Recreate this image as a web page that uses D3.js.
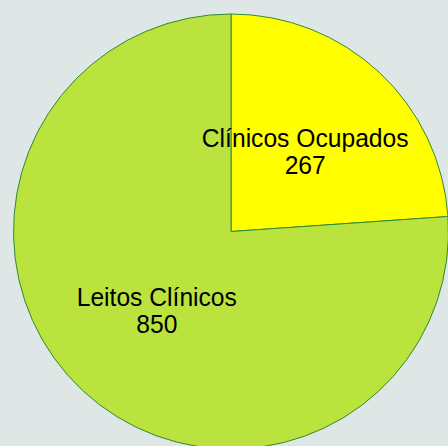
<!DOCTYPE html>
<html>
<head>
<meta charset="utf-8">
<script src="https://cdn.jsdelivr.net/npm/d3@7"></script>
<style>
  html, body { margin: 0; padding: 0; background: #dee7e6; }
</style>
</head>
<body>
<div id="viz"></div>
<script>
const width = 448;
const height = 446;

// Data
const categories = ['Clínicos Ocupados', 'Leitos Clínicos'];
const values = [267, 850];
const colors = ['#ffff00', '#bbe33d'];

const cx = 231, cy = 231.5;
const radius = 217.5;

const svg = d3.select('#viz')
  .append('svg')
    .attr('width', width)
    .attr('height', height);

svg.append('rect')
  .attr('width', width)
  .attr('height', height)
  .attr('fill', '#dee7e6');

const pie = d3.pie().sort(null).value(d => d.value);
const arcs = pie(categories.map((c, i) => ({name: c, value: values[i], color: colors[i]})));

const arc = d3.arc().innerRadius(0).outerRadius(radius);

const g = svg.append('g')
  .attr('transform', `translate(${cx}, ${cy})`);

g.selectAll('path')
  .data(arcs)
  .join('path')
    .attr('d', arc)
    .attr('fill', d => d.data.color)
    .attr('stroke', '#2f8a34')
    .attr('stroke-width', 1);

// labels at the centroid, font squeezed a bit horizontally
const labels = g.selectAll('text')
  .data(arcs)
  .join('text')
    .attr('transform', d => {
      const [x, y] = arc.centroid(d);
      return `translate(${x}, ${y}) scale(0.93, 1)`;
    })
    .attr('text-anchor', 'middle')
    .style('font-family', '"Liberation Sans", Arial, sans-serif')
    .style('font-size', '26.5px')
    .attr('fill', '#000');

labels.append('tspan')
  .attr('x', 0)
  .attr('dy', -5)
  .text(d => d.data.name);
labels.append('tspan')
  .attr('x', 0)
  .attr('dy', 26.6)
  .text(d => d.data.value);
</script>
</body>
</html>
